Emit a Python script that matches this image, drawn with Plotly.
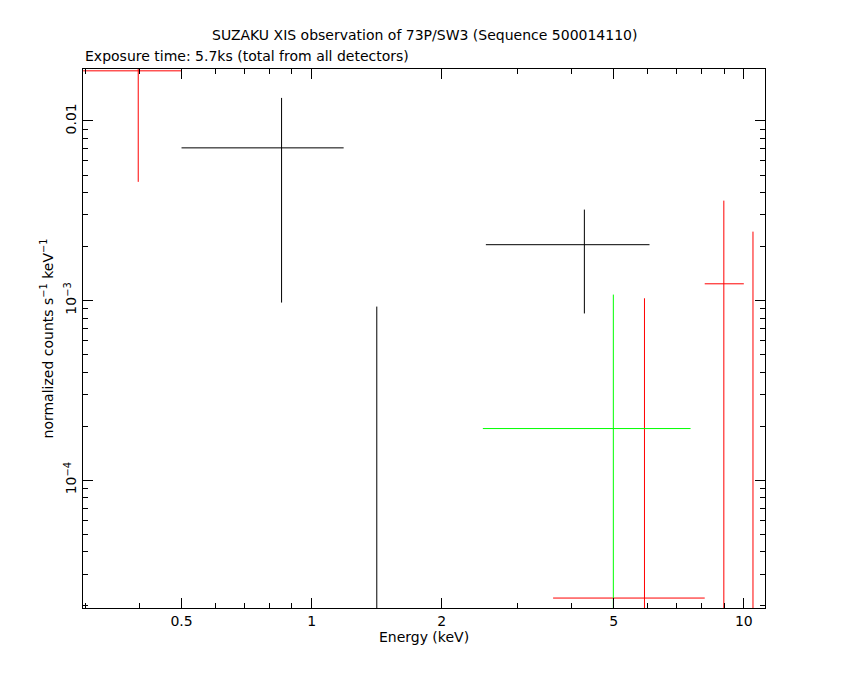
import plotly.graph_objects as go

# black series
blk_x = [0.852, 1.415, 4.276]
blk_xlo = [0.5, 1.415, 2.53]
blk_xhi = [1.186, 1.415, 6.05]
blk_y = [0.00708, 1e-6, 0.002047]
blk_ylo = [0.000975, 1e-7, 0.000848]
blk_yhi = [0.01343, 0.000926, 0.00321]

# red series
red_x = [0.397, 5.89, 8.99, 10.5]
red_xlo = [0.296, 3.62, 8.12, 10.5]
red_xhi = [0.5, 8.12, 10.0, 10.5]
red_y = [0.019, 2.21e-5, 0.00124, 1e-6]
red_ylo = [0.00458, 1e-7, 1e-7, 1e-7]
red_yhi = [0.05, 0.00103, 0.0036, 0.00242]

# green series
grn_x = [4.99]
grn_xlo = [2.49]
grn_xhi = [7.53]
grn_y = [0.000194]
grn_ylo = [1e-7]
grn_yhi = [0.00108]

x_minor = [0.3, 0.4, 0.6, 0.7, 0.8, 0.9, 3, 4, 6, 7, 8, 9, 20]
y_minor = [m * 10 ** e for e in (-5, -4, -3, -2) for m in range(2, 10)]

fig = go.Figure()
for x, xlo, xhi, y, ylo, yhi, c in [
    (blk_x, blk_xlo, blk_xhi, blk_y, blk_ylo, blk_yhi, "black"),
    (red_x, red_xlo, red_xhi, red_y, red_ylo, red_yhi, "red"),
    (grn_x, grn_xlo, grn_xhi, grn_y, grn_ylo, grn_yhi, "#00ff00"),
]:
    fig.add_trace(go.Scatter(
        x=x, y=y, mode="markers", marker=dict(size=1, color=c, opacity=0),
        error_x=dict(type="data", symmetric=False,
                     array=[h - v for h, v in zip(xhi, x)],
                     arrayminus=[v - l for l, v in zip(xlo, x)],
                     color=c, thickness=1, width=0),
        error_y=dict(type="data", symmetric=False,
                     array=[h - v for h, v in zip(yhi, y)],
                     arrayminus=[v - l for l, v in zip(ylo, y)],
                     color=c, thickness=1, width=0),
        showlegend=False))

font = dict(family="DejaVu Sans", size=14, color="black")
axis_common = dict(type="log", showline=True, linecolor="black", linewidth=1, mirror="allticks",
                   ticks="inside", ticklen=10, tickcolor="black", showgrid=False, zeroline=False,
                   tickfont=font)
fig.update_xaxes(axis_common, range=[-0.529, 1.049],
                 tickvals=[0.5, 1, 2, 5, 10], ticktext=["0.5", "1", "2", "5", "10"],
                 minor=dict(tickvals=x_minor, ticks="inside", ticklen=5, tickcolor="black", showgrid=False),
                 title=dict(text="Energy (keV)", font=font, standoff=4))
fig.update_yaxes(axis_common, range=[-4.711, -1.711],
                 tickvals=[1e-4, 1e-3, 0.01], ticktext=["10<sup>−4</sup>", "10<sup>−3</sup>", "0.01"],
                 minor=dict(tickvals=y_minor, ticks="inside", ticklen=5, tickcolor="black", showgrid=False),
                 tickangle=-90,
                 title=dict(text="normalized counts s<sup>−1</sup> keV<sup>−1</sup>", font=font, standoff=4))
fig.update_layout(
    width=850, height=680, plot_bgcolor="white", paper_bgcolor="white",
    margin=dict(l=75, r=93, t=61, b=80),
    annotations=[
        dict(text="SUZAKU XIS observation of 73P/SW3 (Sequence 500014110)", x=0.5, y=1.045,
             xref="paper", yref="paper", showarrow=False, yanchor="bottom", font=font),
        dict(text="Exposure time: 5.7ks (total from all detectors)", x=0, y=1.005,
             xref="paper", yref="paper", showarrow=False, xanchor="left", yanchor="bottom", font=font),
    ],
)
fig.write_html("out.html")
